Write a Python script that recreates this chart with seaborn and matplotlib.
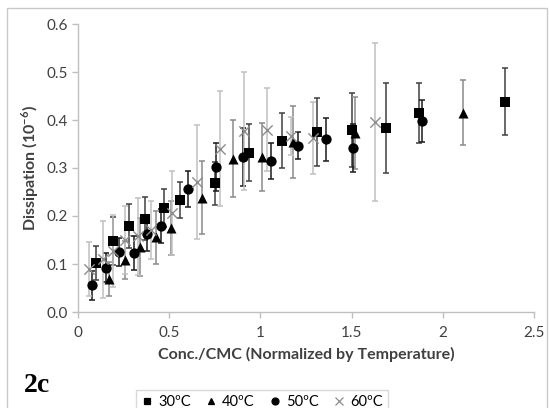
import matplotlib
matplotlib.use("Agg")
import matplotlib.pyplot as plt
from matplotlib.lines import Line2D
from matplotlib.patches import Rectangle
import seaborn as sns
import pandas as pd

# ---- data ----
x30 = [0.10, 0.19, 0.28, 0.37, 0.47, 0.56, 0.75, 0.94, 1.12, 1.31, 1.50, 1.69, 1.87, 2.34]
y30 = [0.102, 0.148, 0.179, 0.194, 0.217, 0.233, 0.268, 0.332, 0.357, 0.375, 0.379, 0.383, 0.415, 0.438]
e30 = [0.035, 0.050, 0.045, 0.045, 0.040, 0.037, 0.045, 0.060, 0.058, 0.070, 0.077, 0.094, 0.062, 0.070]

x40 = [0.17, 0.26, 0.34, 0.43, 0.51, 0.68, 0.85, 1.01, 1.18, 1.52, 2.11]
y40 = [0.069, 0.108, 0.135, 0.156, 0.175, 0.238, 0.319, 0.323, 0.354, 0.373, 0.415]
e40 = [0.035, 0.040, 0.060, 0.055, 0.056, 0.076, 0.080, 0.070, 0.075, 0.075, 0.068]

x50 = [0.077, 0.154, 0.225, 0.307, 0.378, 0.455, 0.603, 0.757, 0.905, 1.058, 1.206, 1.36, 1.508, 1.886]
y50 = [0.056, 0.092, 0.125, 0.123, 0.163, 0.179, 0.256, 0.302, 0.323, 0.315, 0.346, 0.360, 0.342, 0.398]
e50 = [0.030, 0.030, 0.030, 0.035, 0.035, 0.035, 0.038, 0.050, 0.060, 0.037, 0.028, 0.045, 0.050, 0.043]

x60 = [0.06, 0.137, 0.19, 0.26, 0.33, 0.40, 0.515, 0.652, 0.78, 0.91, 1.035, 1.17, 1.29, 1.63]
y60 = [0.090, 0.110, 0.127, 0.150, 0.158, 0.171, 0.206, 0.271, 0.340, 0.377, 0.380, 0.367, 0.362, 0.396]
e60 = [0.056, 0.080, 0.075, 0.070, 0.080, 0.060, 0.088, 0.118, 0.120, 0.122, 0.087, 0.040, 0.075, 0.165]

labels = ["30ºC", "40ºC", "50ºC", "60ºC"]
xticks = [0, 0.5, 1, 1.5, 2, 2.5]
xticklabels = ["0", "0.5", "1", "1.5", "2", "2.5"]
yticks = [0.0, 0.1, 0.2, 0.3, 0.4, 0.5, 0.6]
yticklabels = ["0.0", "0.1", "0.2", "0.3", "0.4", "0.5", "0.6"]

frames = []
for lab, xs, ys, es in zip(labels, [x30, x40, x50, x60], [y30, y40, y50, y60], [e30, e40, e50, e60]):
    frames.append(pd.DataFrame({"x": xs, "y": ys, "err": es, "series": lab}))
df = pd.concat(frames, ignore_index=True)

# ---- style ----
sns.set_theme(style="white")
plt.rcParams["font.family"] = ["Lato", "DejaVu Sans"]
txt = "#404040"

fig = plt.figure(figsize=(5.49, 4.08), dpi=100)
ax = fig.add_axes([78 / 549, 1 - 312 / 408, (534 - 78) / 549, (312 - 24) / 408])

markers = {"30ºC": "s", "40ºC": "^", "50ºC": "o", "60ºC": "x"}
mcolors = {"30ºC": "black", "40ºC": "black", "50ºC": "black", "60ºC": "#8c8c8c"}
ecolors = {"30ºC": "#404040", "40ºC": "#8a8a8a", "50ºC": "#1a1a1a", "60ºC": "#c0c0c0"}
msizes = {"30ºC": 58, "40ºC": 52, "50ºC": 55, "60ºC": 55}

for lab in labels:
    d = df[df["series"] == lab]
    ax.errorbar(d["x"], d["y"], yerr=d["err"], fmt="none", ecolor=ecolors[lab],
                elinewidth=1.1, capsize=2, capthick=1.1, zorder=1)
for lab in labels:
    d = df[df["series"] == lab]
    kw = dict(linewidth=1.0) if lab == "60ºC" else dict(linewidth=0)
    sns.scatterplot(data=d, x="x", y="y", marker=markers[lab], color=mcolors[lab],
                    s=msizes[lab], ax=ax, zorder=3, legend=False, **kw)

ax.set_xlim(0, 2.5)
ax.set_ylim(0, 0.6)
ax.set_xticks(xticks)
ax.set_xticklabels(xticklabels)
ax.set_yticks(yticks)
ax.set_yticklabels(yticklabels)
for s in ["top", "right"]:
    ax.spines[s].set_visible(False)
for s in ["left", "bottom"]:
    ax.spines[s].set_color("#bfbfbf")
    ax.spines[s].set_linewidth(1.0)
ax.tick_params(axis="both", direction="out", length=4, width=1, color="#bfbfbf",
               labelsize=11, labelcolor=txt, left=True, bottom=True)
ax.tick_params(axis="y", pad=3)
ax.tick_params(axis="x", pad=6)
ax.grid(False)

ax.set_xlabel("Conc./CMC (Normalized by Temperature)", fontsize=11.5, fontweight="bold",
              color=txt, labelpad=5)
ax.set_ylabel("Dissipation (10$^{\\mathregular{-6}}$)", fontsize=11.5, fontweight="bold",
              color=txt, labelpad=4)

fig.text(24 / 549, 1 - 385 / 408, "2c", fontsize=20, fontweight="bold",
         family=["Liberation Serif", "DejaVu Serif"], color="black", va="center")

handles = [Line2D([], [], linestyle="none", marker=markers[l], color=mcolors[l],
                  markersize=5 if l != "60ºC" else 6, markeredgewidth=0.9) for l in labels]
leg = fig.legend(handles, labels, loc="upper center", bbox_to_anchor=(262 / 549, 1 - 383 / 408),
                 ncol=4, frameon=True, fontsize=10.5, handlelength=0.8, handletextpad=0.35,
                 columnspacing=1.0, borderpad=0.35, fancybox=False)
leg.get_frame().set_edgecolor("#d0d0d0")
leg.get_frame().set_linewidth(1.0)
for t in leg.get_texts():
    t.set_color("black")

fig.patches.append(Rectangle((7 / 549, -0.02), (548 - 7) / 549 - 0.001, 1 - 8 / 408 + 0.02,
                             transform=fig.transFigure, fill=False, edgecolor="#c8c8c8",
                             linewidth=1.0, zorder=0))

fig.savefig("out.png", dpi=100)
